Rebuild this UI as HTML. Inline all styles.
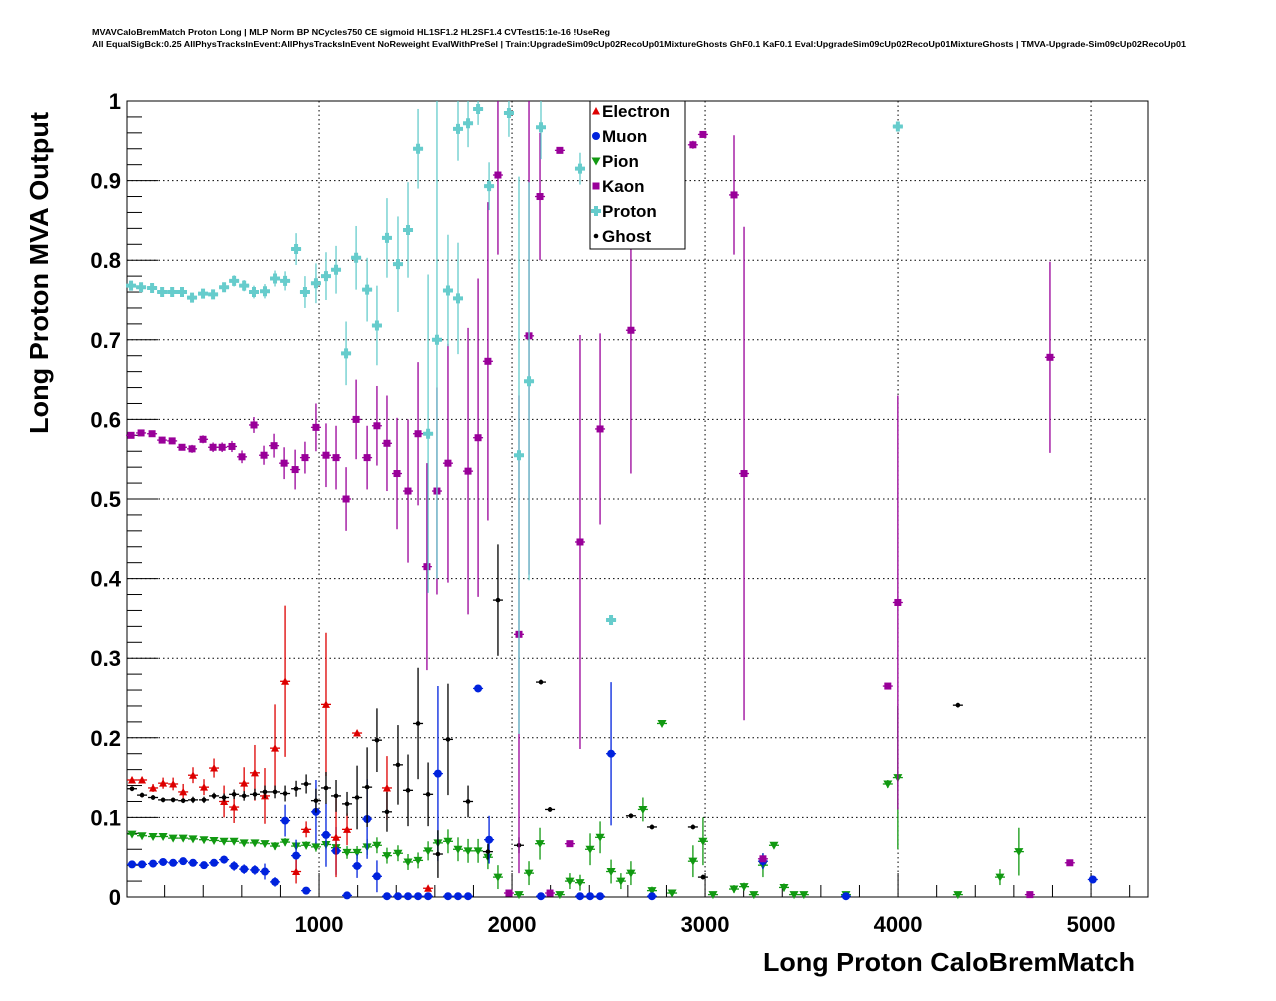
<!DOCTYPE html>
<html><head><meta charset="utf-8"><style>
body{margin:0;background:#fff;}
svg{font-family:"Liberation Sans",sans-serif;}
</style></head><body>
<svg id="c" width="1276" height="996">
<text x="92" y="35" font-size="8" font-weight="bold" textLength="518" lengthAdjust="spacingAndGlyphs">MVAVCaloBremMatch Proton Long | MLP Norm BP NCycles750 CE sigmoid HL1SF1.2 HL2SF1.4 CVTest15:1e-16 !UseReg</text>
<text x="92" y="47" font-size="8" font-weight="bold" textLength="1094" lengthAdjust="spacingAndGlyphs">All EqualSigBck:0.25 AllPhysTracksInEvent:AllPhysTracksInEvent NoReweight EvalWithPreSel | Train:UpgradeSim09cUp02RecoUp01MixtureGhosts GhF0.1 KaF0.1 Eval:UpgradeSim09cUp02RecoUp01MixtureGhosts | TMVA-Upgrade-Sim09cUp02RecoUp01</text>
<g id="grid"></g><g id="axes"></g><g id="marks"></g>
<text x="1135" y="971" font-size="26" font-weight="bold" text-anchor="end" textLength="372" lengthAdjust="spacingAndGlyphs">Long Proton CaloBremMatch</text>
<text transform="translate(48,434) rotate(-90)" font-size="26" font-weight="bold" textLength="322" lengthAdjust="spacingAndGlyphs">Long Proton MVA Output</text>
<g id="legend"></g>
</svg>
<script>
const xTicks=[1000,2000,3000,4000,5000];
const yTicks=[0,0.1,0.2,0.3,0.4,0.5,0.6,0.7,0.8,0.9,1];
const yTickLabels=["0","0.1","0.2","0.3","0.4","0.5","0.6","0.7","0.8","0.9","1"];
const elX=[31,83,140,192,244,296,347,404,456,508,560,612,668,720,772,824,881,933,1036,1088,1145,1197,1352,1565];
const elY=[.147,.147,.137,.143,.142,.132,.153,.138,.162,.12,.113,.143,.156,.127,.187,.271,.032,.085,.242,.075,.085,.206,.137,.011];
const elE=[.004,.004,.005,.007,.008,.01,.01,.01,.012,.02,.02,.02,.035,.035,.055,.095,.015,.01,.09,.05,.02,.002,.04,.003];
const muX=[31,83,140,192,244,296,347,404,456,508,560,612,668,720,772,824,881,933,984,1036,1088,1145,1197,1249,1300,1352,1409,1461,1513,1565,1616,1668,1720,1772,1824,1881,2150,2352,2404,2456,2513,2725,3300,3730,5009];
const muY=[.041,.041,.042,.044,.043,.045,.043,.04,.043,.047,.039,.035,.034,.032,.019,.096,.052,.008,.107,.078,.058,.002,.039,.098,.026,.001,.001,.001,.001,.001,.155,.001,.001,.001,.262,.072,.001,.001,.001,.001,.18,.001,.045,.001,.022];
const muE=[.002,.002,.002,.002,.002,.003,.003,.003,.003,.005,.006,.006,.006,.01,.006,.02,.02,.004,.04,.04,.03,.001,.015,.05,.02,0,0,0,0,0,.11,0,0,0,.004,.03,0,0,0,0,.09,0,.01,0,.002];
const piX=[31,83,140,192,244,296,347,404,456,508,560,612,668,720,772,824,881,933,984,1036,1088,1145,1197,1249,1300,1352,1409,1461,1513,1565,1616,1668,1720,1772,1824,1875,1927,2036,2088,2145,2248,2300,2352,2404,2456,2513,2564,2616,2678,2725,2777,2829,2937,2989,3041,3150,3202,3253,3300,3357,3409,3461,3512,3730,3947,3999,4310,4528,4626];
const piY=[.079,.077,.076,.076,.074,.074,.073,.072,.071,.07,.07,.068,.068,.067,.064,.069,.064,.065,.063,.066,.062,.056,.056,.063,.065,.052,.055,.044,.046,.058,.068,.07,.06,.058,.058,.05,.025,.003,.03,.067,.003,.02,.018,.06,.075,.032,.02,.03,.11,.008,.218,.005,.045,.07,.003,.01,.013,.003,.04,.065,.012,.003,.003,.003,.142,.15,.003,.025,.057];
const piE=[.002,.002,.002,.002,.002,.002,.002,.002,.003,.003,.003,.003,.003,.004,.005,.005,.005,.005,.006,.006,.007,.008,.008,.01,.01,.01,.01,.01,.01,.012,.015,.015,.015,.015,.015,.015,.015,.003,.015,.02,.003,.01,.01,.02,.02,.015,.01,.015,.015,.005,.003,.003,.02,.03,.002,.005,.005,.002,.015,.004,.005,.002,.002,.002,.005,.09,.002,.01,.03];
const kaX=[26,78,135,187,239,290,342,399,451,498,549,601,663,715,767,819,876,927,984,1036,1088,1140,1192,1249,1300,1352,1404,1461,1513,1559,1611,1668,1772,1824,1875,1927,1984,2036,2088,2145,2197,2248,2300,2352,2456,2616,2937,2989,3150,3202,3300,3947,3999,4683,4787,4890];
const kaY=[.58,.583,.582,.574,.573,.565,.563,.575,.565,.565,.566,.553,.593,.555,.567,.545,.537,.552,.59,.555,.552,.5,.6,.552,.592,.57,.532,.51,.582,.415,.51,.545,.535,.577,.673,.907,.005,.33,.705,.88,.005,.938,.067,.446,.588,.712,.945,.958,.882,.532,.048,.265,.37,.003,.678,.043];
const kaE=[.003,.003,.003,.004,.004,.004,.005,.005,.006,.006,.007,.008,.01,.012,.015,.02,.025,.02,.03,.04,.04,.04,.05,.04,.05,.06,.07,.09,.09,.13,.13,.15,.18,.2,.2,.1,.002,.3,.3,.08,.002,.004,.002,.26,.12,.18,.005,.004,.075,.31,.004,.003,.26,.002,.12,.002];
const prX=[26,78,135,187,239,290,342,399,451,508,560,612,663,720,772,824,881,927,984,1036,1088,1140,1192,1249,1300,1352,1409,1461,1513,1565,1611,1668,1720,1720,1772,1824,1881,1984,2036,2088,2150,2352,2513,3999];
const prY=[.768,.766,.765,.76,.76,.76,.753,.758,.757,.766,.774,.768,.76,.761,.777,.774,.814,.76,.771,.78,.788,.683,.803,.763,.718,.828,.795,.838,.94,.582,.7,.762,.752,.965,.972,.99,.893,.985,.555,.648,.967,.915,.348,.968];
const prE=[.002,.002,.003,.003,.003,.004,.004,.005,.005,.006,.007,.007,.008,.009,.01,.012,.02,.02,.025,.03,.03,.04,.04,.04,.05,.05,.06,.06,.05,.2,.3,.07,.07,.04,.03,.02,.03,.03,.35,.25,.04,.02,.004,.004];
const ghX=[31,83,140,192,244,296,347,404,456,508,560,612,668,720,772,824,881,933,984,1036,1088,1145,1197,1249,1300,1352,1409,1461,1513,1565,1616,1668,1772,1875,1927,2036,2150,2197,2616,2725,2937,2989,4310];
const ghY=[.136,.128,.125,.122,.122,.121,.122,.122,.127,.125,.129,.127,.129,.132,.132,.13,.136,.142,.121,.137,.127,.117,.125,.138,.197,.107,.166,.134,.218,.129,.054,.198,.12,.057,.373,.065,.27,.11,.102,.088,.088,.025,.241];
const ghE=[.003,.003,.003,.003,.003,.003,.004,.004,.004,.005,.006,.006,.007,.008,.008,.01,.01,.012,.015,.02,.02,.015,.04,.05,.04,.025,.05,.045,.07,.04,.03,.07,.02,.01,.07,.01,.003,.003,.003,.003,.003,.003,.003];

const L=127,R=1148,T=101,B=897,xmin=5,xmax=5295;
const X=v=>L+(v-xmin)/(xmax-xmin)*(R-L);
const Y=v=>B-v*(B-T);
const NS="http://www.w3.org/2000/svg";
function mk(tag,attrs,parent){const e=document.createElementNS(NS,tag);for(const k in attrs)e.setAttribute(k,attrs[k]);parent.appendChild(e);return e;}
const grid=document.getElementById('grid'),axes=document.getElementById('axes'),marks=document.getElementById('marks');
xTicks.forEach(t=>{const l=mk('line',{x1:X(t),x2:X(t),y1:T,y2:B,stroke:'#000','stroke-dasharray':'1.5,3','stroke-width':1},grid);

});
yTicks.slice(1,-1).forEach(t=>{const l=mk('line',{x1:L,x2:R,y1:Y(t),y2:Y(t),stroke:'#000','stroke-dasharray':'1.5,3','stroke-width':1},grid);

});
const fr=mk('rect',{x:L,y:T,width:R-L,height:B-T,fill:'none',stroke:'#000','stroke-width':1},axes);


for(let v=200;v<xmax;v+=200){const maj=v%1000===0;mk('line',{x1:X(v),x2:X(v),y1:B,y2:B-(maj?24:12),stroke:'#000'},axes);}
for(let i=0;i<=50;i++){const v=i*0.02;const maj=i%5===0;mk('line',{x1:L,x2:L+(maj?31:15),y1:Y(v),y2:Y(v),stroke:'#000'},axes);}
xTicks.forEach(t=>{const s=mk('text',{x:X(t),y:932,'font-size':22,'font-weight':'bold','text-anchor':'middle'},axes);s.textContent=t;

});
yTicks.forEach((t,i)=>{const s=mk('text',{x:121,y:Y(t)+8,'font-size':22,'font-weight':'bold','text-anchor':'end'},axes);s.textContent=yTickLabels[i];

});
function marker(g,type,cx,cy,col){
 if(type==='tri')mk('polygon',{points:`${cx-4},${cy+3.5} ${cx+4},${cy+3.5} ${cx},${cy-4}`,fill:col},g);
 else if(type==='tridown')mk('polygon',{points:`${cx-4.5},${cy-3.5} ${cx+4.5},${cy-3.5} ${cx},${cy+4.5}`,fill:col},g);
 else if(type==='circ')mk('circle',{cx:cx,cy:cy,r:4,fill:col},g);
 else if(type==='sq')mk('rect',{x:cx-3.5,y:cy-3.5,width:7,height:7,fill:col},g);
 else if(type==='cross')mk('path',{d:`M${cx-5},${cy-2}h3v-3h4v3h3v4h-3v3h-4v-3h-3z`,fill:col},g);
 else mk('circle',{cx:cx,cy:cy,r:2.3,fill:col},g);
}
function series(name,xs,ys,es,col,type){
 const g=mk('g',{},marks);
 
 
 xs.forEach((x,i)=>{const cx=X(x),cy=Y(ys[i]);
  mk('line',{x1:cx-5,x2:cx+5,y1:cy,y2:cy,stroke:col,'stroke-width':1.3},g);
  if(es[i]>0)mk('line',{x1:cx,x2:cx,y1:Y(Math.min(1,ys[i]+es[i])),y2:Y(Math.max(0,ys[i]-es[i])),stroke:col,'stroke-width':1.3},g);
  marker(g,type,cx,cy,col);});
}
series('pion',piX,piY,piE,'#119911','tridown');
series('muon',muX,muY,muE,'#0022dd','circ');
series('electron',elX,elY,elE,'#dd0000','tri');
series('ghost',ghX,ghY,ghE,'#000000','dot');
series('kaon',kaX,kaY,kaE,'#990099','sq');
series('proton',prX,prY,prE,'#66cccc','cross');
const lg=document.getElementById('legend');
mk('rect',{x:590,y:101,width:95,height:148,fill:'#fff',stroke:'#000'},lg);
const names=['Electron','Muon','Pion','Kaon','Proton','Ghost'],cols=['#dd0000','#0022dd','#119911','#990099','#66cccc','#000'],types=['tri','circ','tridown','sq','cross','dot'];
names.forEach((n,i)=>{const y=111+i*25;const g=mk('g',{},lg);
 
 
 marker(g,types[i],596,y,cols[i]);
 const t=mk('text',{x:602,y:y+6,'font-size':17,'font-weight':'bold'},g);t.textContent=n;});
</script>
</body></html>
